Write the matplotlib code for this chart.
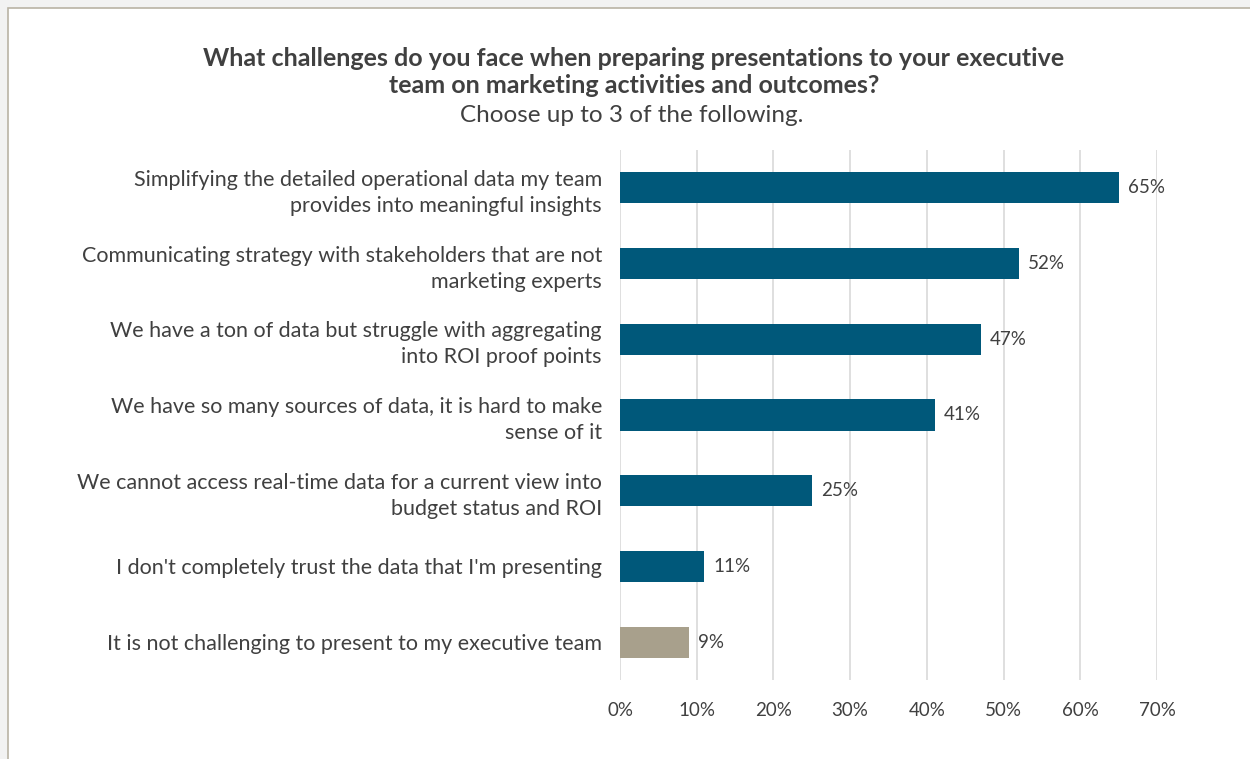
import matplotlib

matplotlib.use("Agg")
import matplotlib.pyplot as plt
from matplotlib.patches import Rectangle
from matplotlib.ticker import FuncFormatter, MultipleLocator

categories = [
    "Simplifying the detailed operational data my team\nprovides into meaningful insights",
    "Communicating strategy with stakeholders that are not\nmarketing experts",
    "We have a ton of data but struggle with aggregating\ninto ROI proof points",
    "We have so many sources of data, it is hard to make\nsense of it",
    "We cannot access real-time data for a current view into\nbudget status and ROI",
    "I don't completely trust the data that I'm presenting",
    "It is not challenging to present to my executive team",
]
values = [65, 52, 47, 41, 25, 11, 9]

title = ("What challenges do you face when preparing presentations to your executive\n"
         "team on marketing activities and outcomes?")
subtitle = "Choose up to 3 of the following."

BLUE = "#00587A"
TAN = "#A8A08C"
TEXT = "#404040"

plt.rcParams.update({
    "font.family": ["Lato", "DejaVu Sans"],
    "text.color": TEXT,
    "xtick.color": TEXT,
    "ytick.color": TEXT,
})

fig = plt.figure(figsize=(12.5, 7.59), dpi=100)
fig.patch.set_facecolor("#f2f2f2")
# white chart area with a thin frame
fig.add_artist(Rectangle((8 / 1250, -0.05), 1.2, 1.05 - 8 / 759,
                         transform=fig.transFigure, facecolor="white",
                         edgecolor="#b9b3a4", linewidth=1.2, zorder=0))

ax = fig.add_axes([620 / 1250, 1 - 680 / 759, 537 / 1250, 530 / 759])
ax.set_facecolor("none")

colors = [BLUE] * (len(values) - 1) + [TAN]
ypos = list(range(len(values)))
bars = ax.barh(ypos, values, height=0.41, color=colors, zorder=2)
for b, v in zip(bars, values):
    ax.text(b.get_width() + 1.2, b.get_y() + b.get_height() / 2, f"{v}%",
            va="center", ha="left", fontsize=13.5, color=TEXT)

ax.set_xlim(0, 70)
ax.set_ylim(len(values) - 0.5, -0.5)
ax.xaxis.set_major_locator(MultipleLocator(10))
ax.xaxis.set_major_formatter(FuncFormatter(lambda x, _: f"{x:.0f}%"))
ax.set_yticks(ypos)
ax.set_yticklabels(categories, fontsize=15.5, linespacing=1.38)
ax.tick_params(axis="both", length=0)
ax.tick_params(axis="y", pad=13)
ax.tick_params(axis="x", pad=16, labelsize=13.5)
ax.grid(axis="x", color="#d9d9d9", linewidth=1.2, zorder=0)
ax.set_axisbelow(True)
for s in ax.spines.values():
    s.set_visible(False)

fig.text(0.507, 1 - 72 / 759, title, ha="center", va="center",
         fontsize=18, fontweight="bold", linespacing=1.17, color=TEXT)
fig.text(0.505, 1 - 116 / 759, subtitle, ha="center", va="center",
         fontsize=17.5, color=TEXT)

fig.savefig("out.png", dpi=100, facecolor=fig.get_facecolor())
